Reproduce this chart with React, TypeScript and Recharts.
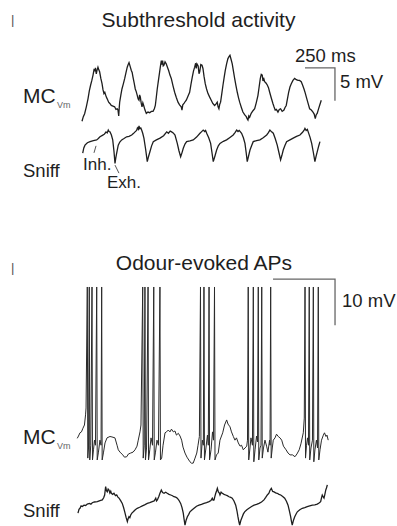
import React from "react";
import { ComposedChart, Line, XAxis, YAxis } from "recharts";

// ---- Subthreshold activity: mitral cell Vm (ms, mV relative) ----
const subMcVm: [number, number][] = [
  [0,-0.2],[11,0.5],[22,0.95],[36,2.0],[50,3.2],[61,4.4],[72,5.3],[82,6.0],[92,6.8],[100,7.6],[106,7.5],[112,7.9],[119,7.0],[126,7.6],[133,8.0],[140,7.6],[147,7.3],[157,6.3],[167,5.5],[175,4.6],[183,4.0],[190,4.2],[202,3.5],[210,3.2],[222,2.7],[232,2.5],[244,2.2],[258,2.1],[272,2.0],[283,1.6],[294,1.7],[300,1.5],[306,0.6],[310,1.8],[314,2.7],[324,3.8],[333,4.7],[345,5.5],[356,6.3],[367,7.2],[377,8.0],[385,8.4],[392,8.7],[400,8.2],[411,7.5],[418,7.2],[425,6.5],[435,5.6],[444,4.7],[452,4.3],[461,3.7],[468,3.2],[475,3.0],[480,3.8],[486,3.5],[493,2.6],[500,2.0],[507,2.6],[514,2.2],[525,1.5],[536,1.0],[550,1.2],[564,1.1],[578,1.3],[592,1.3],[603,1.7],[611,2.2],[619,3.4],[627,4.7],[637,6.0],[647,7.3],[654,8.2],[661,9.0],[667,8.4],[672,9.0],[677,8.2],[683,8.3],[692,8.8],[702,8.5],[712,8.0],[722,7.5],[733,6.8],[744,6.3],[758,5.2],[772,4.2],[786,3.4],[800,2.7],[813,2.3],[827,2.0],[833,1.5],[840,2.3],[850,2.5],[860,2.8],[869,3.0],[883,3.6],[897,4.2],[908,5.4],[919,6.5],[929,7.4],[939,8.0],[947,8.6],[952,7.8],[958,8.5],[968,8.2],[975,7.0],[981,7.3],[990,8.4],[1000,8.3],[1008,7.8],[1017,6.6],[1027,5.5],[1038,4.7],[1050,4.0],[1063,3.5],[1077,3.0],[1090,2.5],[1105,2.2],[1116,2.4],[1127,2.7],[1134,2.0],[1141,1.7],[1148,2.4],[1155,2.7],[1165,4.0],[1175,5.3],[1185,6.5],[1194,7.5],[1205,8.5],[1216,9.3],[1225,9.6],[1233,9.8],[1242,9.2],[1252,8.5],[1262,7.4],[1272,6.3],[1283,5.2],[1294,4.2],[1304,3.4],[1314,2.7],[1328,1.9],[1341,1.2],[1355,0.8],[1369,0.5],[1376,0.2],[1383,0],[1390,0.6],[1397,0.4],[1410,1.0],[1425,1.4],[1439,1.7],[1452,2.6],[1466,3.7],[1476,5.0],[1486,6.3],[1494,6.9],[1502,6.8],[1508,5.9],[1513,6.4],[1522,5.8],[1533,5.6],[1544,5.3],[1554,4.9],[1564,4.2],[1578,3.3],[1591,2.5],[1600,2.0],[1610,1.5],[1620,1.6],[1633,1.2],[1644,1.6],[1655,1.7],[1668,1.3],[1683,1.5],[1692,1.9],[1702,2.2],[1712,3.2],[1722,4.2],[1733,5.0],[1744,5.5],[1758,6.0],[1772,6.3],[1786,6.1],[1800,6.0],[1813,6.0],[1827,5.8],[1838,5.3],[1850,4.7],[1860,4.1],[1869,3.5],[1883,2.6],[1897,1.7],[1911,1.5],[1925,1.2],[1935,0.9],[1944,0.2],[1952,0.8],[1960,1.0],[1970,1.6],[1980,2.2],[1994,3.0],
];

// ---- Subthreshold activity: sniff signal (ms, a.u.) ----
const subSniff: [number, number][] = [
  [6,2.8],[15,4.3],[25,5.1],[45,5.8],[67,6.1],[95,6.4],[122,6.6],[136,7.0],[150,7.5],[170,7.9],[185,8.2],[192,8.5],[200,8.9],[210,8.6],[219,9.4],[226,9.0],[233,8.9],[245,8.0],[256,6.6],[266,3.5],[275,-0.1],[282,1.5],[289,2.8],[302,5.1],[315,6.0],[331,6.6],[350,7.0],[372,7.5],[392,7.6],[414,8.0],[428,8.4],[442,8.9],[455,9.3],[462,10.0],[470,9.6],[475,10.6],[482,9.8],[490,10.0],[497,9.4],[506,8.5],[516,7.1],[530,4.0],[544,0.4],[554,1.8],[566,3.2],[580,4.9],[594,6.1],[620,6.6],[650,7.1],[680,7.8],[706,8.9],[720,8.5],[735,9.1],[747,8.9],[760,8.6],[775,8.0],[794,5.6],[808,3.5],[822,1.8],[833,2.9],[844,4.2],[858,5.4],[872,6.1],[900,6.3],[927,6.6],[955,7.4],[983,8.5],[995,8.9],[1010,9.4],[1022,9.0],[1030,9.3],[1039,8.5],[1056,7.2],[1072,5.6],[1083,3.0],[1094,0.4],[1108,2.0],[1122,3.7],[1136,4.9],[1150,5.6],[1178,6.2],[1205,6.6],[1233,7.3],[1260,8.0],[1275,8.7],[1289,9.4],[1300,9.0],[1310,9.3],[1330,8.5],[1345,7.2],[1358,5.6],[1368,3.0],[1377,0.4],[1388,2.0],[1400,3.7],[1414,5.0],[1427,6.1],[1455,6.4],[1483,6.6],[1510,7.2],[1539,8.0],[1552,8.6],[1566,9.4],[1580,8.9],[1594,8.5],[1610,7.0],[1627,5.1],[1641,3.0],[1655,0.9],[1666,2.2],[1677,3.7],[1691,5.0],[1705,6.1],[1733,6.6],[1760,7.1],[1788,7.6],[1816,8.0],[1838,8.8],[1850,9.3],[1858,9.9],[1868,9.3],[1878,9.6],[1885,8.9],[1900,7.4],[1914,5.6],[1928,3.0],[1941,0.4],[1950,1.8],[1960,3.2],[1972,4.8],[1983,6.1],
];

// ---- Odour-evoked APs: mitral cell Vm with spikes (ms, mV relative) ----
const apMcVm: [number, number][] = [
  [2,5.8],[12,6.3],[24,7.0],[36,7.2],[48,8.0],[60,8.7],[69,10.9],[73,12.4],
  [83,38.7],[87,1.5],[93,3.7],[99,38.7],[103,1.1],[111,4.3],[121,38.7],[125,1.1],[133,3.3],[141,5.4],[149,4.3],
  [159,38.7],[163,1.1],[173,2.8],[185,5.4],[194,4.3],[199,38.7],[203,1.1],[214,2.8],[226,4.8],[242,5.9],[266,6.2],[282,6.1],[306,5.9],[323,4.3],[333,3.3],[347,2.8],[369,2.2],[383,1.7],[401,1.8],[415,2.4],[433,2.6],[452,2.8],[468,3.3],[484,4.1],[494,5.4],[508,7.2],[516,8.7],
  [530,38.7],[534,1.5],[542,4.3],[548,38.7],[552,1.1],[561,3.7],[573,38.7],[577,1.1],[587,3.3],[597,5.9],[609,4.3],
  [619,38.7],[623,1.1],[633,2.8],[645,5.4],[657,4.3],[669,38.7],[673,1.1],[683,1.5],[694,4.3],[710,7.0],[722,7.2],[736,7.6],[750,7.2],[762,7.8],[777,7.2],[790,7.4],[802,6.5],[817,6.9],[831,6.3],[844,5.4],[855,3.9],[871,2.6],[887,1.7],[911,0.7],[923,0.4],[937,0.4],[952,1.5],[966,2.6],[976,4.3],[987,6.2],
  [996,38.7],[1000,1.5],[1011,5.4],[1019,4.3],[1024,38.7],[1028,1.1],[1040,3.7],[1052,6.5],[1059,4.3],
  [1065,38.7],[1069,1.1],[1081,3.3],[1093,7.2],[1101,5.4],[1109,38.7],[1113,1.1],[1125,2.2],[1139,2.6],[1153,5.4],[1175,7.0],[1190,8.7],[1207,9.8],[1218,8.9],[1234,8.3],[1246,7.2],[1261,6.2],[1274,5.4],[1286,5.9],[1301,4.8],[1315,4.1],[1327,4.3],[1341,3.3],[1355,3.7],[1369,4.1],[1375,5.4],
  [1381,38.7],[1385,1.1],[1395,3.7],[1403,5.9],[1415,4.3],[1422,38.7],[1426,0.7],[1436,3.3],[1448,6.3],[1456,5.0],
  [1462,38.7],[1466,1.1],[1476,3.7],[1484,4.3],[1490,38.7],[1494,1.5],[1504,3.7],[1516,5.4],[1529,4.1],[1540,2.8],[1553,5.4],[1557,4.3],
  [1562,38.7],[1566,1.5],[1575,3.7],[1583,5.4],[1597,5.9],[1609,6.7],[1623,6.2],[1637,5.9],[1651,5.4],[1665,4.1],[1686,3.3],[1702,2.6],[1718,2.2],[1738,2.2],[1758,1.8],[1774,2.4],[1792,3.3],[1806,4.6],[1825,7.0],[1833,10.2],
  [1839,38.7],[1843,1.5],[1851,4.3],[1859,5.9],[1867,4.3],[1873,38.7],[1877,1.1],[1887,3.7],[1899,5.4],
  [1906,38.7],[1910,0.7],[1919,3.3],[1931,5.4],[1940,3.7],[1946,38.7],[1950,1.1],[1960,3.3],[1972,5.4],[1987,6.5],[1996,7.0],[2008,6.2],[2016,6.5],[2026,5.4],
];

// ---- Odour-evoked APs: sniff signal (ms, a.u.) ----
const apSniff: [number, number][] = [
  [8,2.8],[16,3.9],[24,4.2],[33,4.9],[43,4.7],[56,5.1],[70,5.0],[83,5.4],[100,5.6],[112,5.4],[123,5.8],[140,6.0],[164,6.1],[185,6.4],[204,6.6],[215,7.2],[223,8.0],[228,9.5],[231,10.4],[238,9.2],[244,8.9],[251,9.7],[258,9.4],[265,8.6],[272,9.1],[277,8.5],[288,8.2],[298,8.5],[310,7.8],[320,8.0],[330,7.4],[339,7.1],[352,6.4],[365,5.6],[375,4.5],[385,3.2],[396,1.6],[406,0.4],[412,1.2],[419,1.8],[426,1.5],[433,2.3],[444,2.9],[454,3.2],[470,3.8],[486,4.2],[505,4.5],[527,4.9],[545,5.2],[567,5.6],[587,5.8],[607,6.1],[622,6.3],[635,7.1],[641,6.3],[648,6.6],[660,7.6],[669,8.5],[680,9.4],[690,8.7],[702,8.5],[715,8.8],[728,8.5],[742,8.2],[756,8.0],[770,7.8],[782,7.5],[796,7.4],[809,7.1],[822,6.5],[836,5.6],[847,4.4],[857,2.8],[864,1.0],[871,-0.6],[880,0.8],[890,1.8],[900,2.4],[911,3.2],[927,3.7],[944,4.2],[964,4.8],[984,5.1],[1004,5.3],[1024,5.6],[1045,5.8],[1065,6.1],[1080,6.4],[1091,7.1],[1098,6.5],[1105,6.6],[1112,7.6],[1119,8.5],[1126,9.2],[1132,9.9],[1140,8.9],[1147,8.6],[1153,8.0],[1162,8.8],[1172,8.5],[1186,8.2],[1199,8.0],[1212,7.8],[1226,7.5],[1240,7.3],[1252,7.1],[1266,6.3],[1280,5.1],[1290,3.5],[1298,1.8],[1305,0.5],[1312,-0.6],[1322,0.8],[1333,1.8],[1342,2.6],[1352,3.2],[1370,3.8],[1387,4.2],[1408,4.7],[1428,5.1],[1448,5.3],[1468,5.6],[1488,6.0],[1508,6.6],[1522,7.3],[1535,8.0],[1548,8.5],[1556,9.3],[1567,9.9],[1578,9.0],[1589,8.9],[1602,8.6],[1615,8.5],[1629,8.2],[1643,8.0],[1659,7.6],[1675,7.1],[1689,6.2],[1702,5.1],[1712,3.6],[1723,1.8],[1730,0.4],[1736,-0.6],[1746,0.8],[1756,1.8],[1766,2.5],[1777,3.2],[1797,3.8],[1817,4.2],[1837,4.4],[1857,4.7],[1877,4.9],[1898,5.1],[1918,5.2],[1938,5.4],[1952,5.7],[1965,6.1],[1972,7.2],[1978,8.0],[1985,7.5],[1992,7.1],[1999,8.2],[2006,9.4],[2012,10.0],[2019,10.9],
];

// ---- Scale bars (ms, mV) ----
const subScaleBar: [number, number][] = [[1858, 7.9], [2108, 7.9], [2108, 2.9]]; // 250 ms, 5 mV
const apScaleBar: [number, number][] = [[1581, 40.4], [2081, 40.4], [2081, 30.4]]; // 500 ms, 10 mV

// ---- Inhalation / exhalation pointers (ms, sniff a.u.) ----
const inhPointer: [number, number][] = [[117, 4.9], [100, 2.9]];
const exhPointer: [number, number][] = [[275, -0.6], [308, -2.9]];

// ---- Text labels ----
const titles = ["Subthreshold activity", "Odour-evoked APs"];
const scaleLabels = ["250 ms", "5 mV", "10 mV"];
const rowLabels = ["MC", "Vm", "Sniff"];
const phaseLabels = ["Inh.", "Exh."];

const toRows = (pts: [number, number][]) => pts.map(([t, v]) => ({ t, v }));

const W = 397;
const H = 526;
const FONT = "'Liberation Sans', Arial, Helvetica, sans-serif";
const INK = "#1e1e1e";

export default function App() {
  const lineProps = {
    dataKey: "v",
    dot: false,
    activeDot: false,
    isAnimationActive: false,
    type: "linear" as const,
  };
  return (
    <div style={{ position: "absolute", left: 0, top: 0, width: W, height: H, background: "#fff" }}>
      <ComposedChart width={W} height={H} margin={{ top: 0, right: 0, bottom: 0, left: 0 }}>
        <XAxis xAxisId="sub" type="number" dataKey="t" domain={[-683.3, 2625]} allowDataOverflow hide />
        <XAxis xAxisId="ap" type="number" dataKey="t" domain={[-621, 2580.8]} allowDataOverflow hide />
        <YAxis yAxisId="subVm" type="number" domain={[-61.52, 18.18]} allowDataOverflow hide />
        <YAxis yAxisId="subSn" type="number" domain={[-103.71, 46.57]} allowDataOverflow hide />
        <YAxis yAxisId="apVm" type="number" domain={[-13.26, 101.09]} allowDataOverflow hide />
        <YAxis yAxisId="apSn" type="number" domain={[-0.857, 149.43]} allowDataOverflow hide />

        <Line {...lineProps} data={toRows(subMcVm)} xAxisId="sub" yAxisId="subVm" stroke={INK} strokeWidth={1.3} />
        <Line {...lineProps} data={toRows(subSniff)} xAxisId="sub" yAxisId="subSn" stroke={INK} strokeWidth={1.3} />
        <Line {...lineProps} data={toRows(inhPointer)} xAxisId="sub" yAxisId="subSn" stroke="#555" strokeWidth={1} />
        <Line {...lineProps} data={toRows(exhPointer)} xAxisId="sub" yAxisId="subSn" stroke="#555" strokeWidth={1} />
        <Line {...lineProps} data={toRows(subScaleBar)} xAxisId="sub" yAxisId="subVm" stroke="#666" strokeWidth={1.3} />

        <Line {...lineProps} data={toRows(apMcVm)} xAxisId="ap" yAxisId="apVm" stroke="#2a2a2a" strokeWidth={1} />
        <Line {...lineProps} data={toRows(apSniff)} xAxisId="ap" yAxisId="apSn" stroke={INK} strokeWidth={1.3} />
        <Line {...lineProps} data={toRows(apScaleBar)} xAxisId="ap" yAxisId="apVm" stroke="#666" strokeWidth={1.3} />
      </ComposedChart>

      <svg width={W} height={H} style={{ position: "absolute", left: 0, top: 0, pointerEvents: "none" }}>
        <g fontFamily={FONT} fill={INK}>
          <text x={11} y={24} fontSize={13} fill="#555">|</text>
          <text x={11} y={272} fontSize={13} fill="#555">|</text>

          <text x={198.5} y={27} fontSize={21} textAnchor="middle">{titles[0]}</text>
          <text x={295} y={62} fontSize={18.5}>{scaleLabels[0]}</text>
          <text x={340} y={88} fontSize={18.5}>{scaleLabels[1]}</text>
          <text x={23} y={103} fontSize={21}>{rowLabels[0]}</text>
          <text x={57} y={108} fontSize={9} fill="#666">{rowLabels[1]}</text>
          <text x={23} y={177} fontSize={18.5}>{rowLabels[2]}</text>
          <text x={83} y={170} fontSize={17}>{phaseLabels[0]}</text>
          <text x={107} y={188} fontSize={17}>{phaseLabels[1]}</text>

          <text x={204} y={270} fontSize={21} textAnchor="middle">{titles[1]}</text>
          <text x={342} y={307} fontSize={18.5}>{scaleLabels[2]}</text>
          <text x={23} y={444} fontSize={21}>{rowLabels[0]}</text>
          <text x={57} y={449} fontSize={9} fill="#666">{rowLabels[1]}</text>
          <text x={23} y={517} fontSize={18.5}>{rowLabels[2]}</text>
        </g>
      </svg>
    </div>
  );
}
